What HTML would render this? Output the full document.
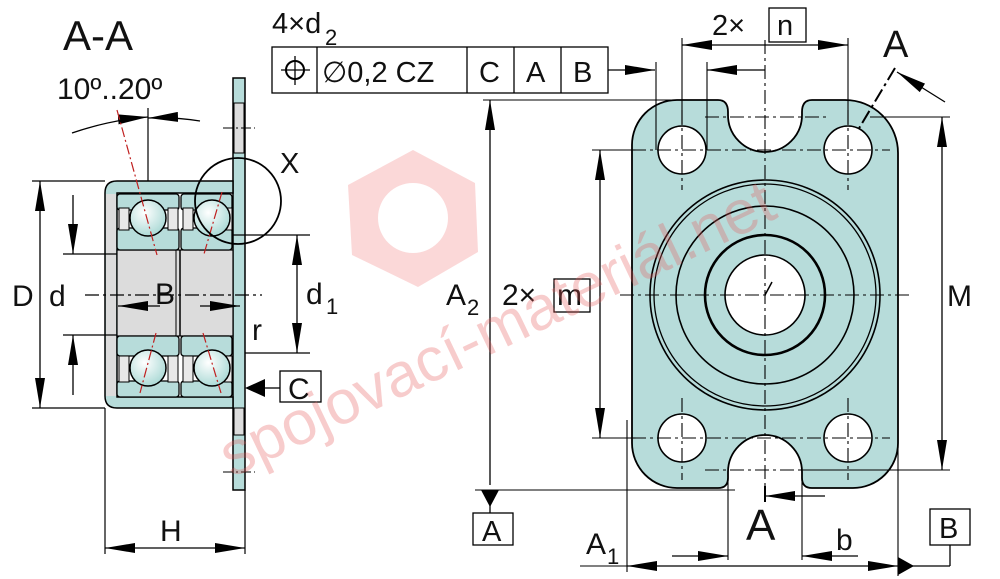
<!DOCTYPE html>
<html><head><meta charset="utf-8"><style>
html,body{margin:0;padding:0;background:#fff;width:1000px;height:579px;overflow:hidden}
svg{display:block}
text{font-family:"Liberation Sans","DejaVu Sans",sans-serif;fill:#111}
</style></head><body>
<svg width="1000" height="579" viewBox="0 0 1000 579" xmlns="http://www.w3.org/2000/svg">
<defs>
<marker id="ar" viewBox="0 0 30 10" refX="30" refY="5" markerWidth="30" markerHeight="10" markerUnits="userSpaceOnUse" orient="auto-start-reverse"><path d="M0,0 L30,5 L0,10 Z" fill="#000"/></marker>
<radialGradient id="ball" cx="0.4" cy="0.35" r="0.7"><stop offset="0" stop-color="#ffffff"/><stop offset="1" stop-color="#a8d8d4"/></radialGradient>
</defs>

<!-- ===== LEFT SECTION VIEW ===== -->
<text x="63" y="50" font-size="42">A-A</text>
<text x="57" y="99" font-size="30">10º..20º</text>
<path d="M72,133 Q110,120 148,117" fill="none" stroke="#000" stroke-width="1.3" marker-end="url(#ar)"/>
<path d="M200,121 Q175,117 148,118" fill="none" stroke="#000" stroke-width="1.3" marker-end="url(#ar)"/>
<line x1="148" y1="108" x2="148" y2="218" stroke="#000" stroke-width="1.2"/>

<!-- flange -->
<rect x="233" y="78" width="12" height="412" fill="#b7dcda" stroke="#000" stroke-width="1.5"/>
<rect x="234" y="103" width="10" height="50" fill="#dcdcdc" stroke="#000" stroke-width="1"/>
<rect x="234" y="408" width="10" height="27" fill="#dcdcdc" stroke="#000" stroke-width="1"/>
<line x1="223" y1="128" x2="255" y2="128" stroke="#000" stroke-dasharray="10,3,2,3"/>
<line x1="223" y1="472" x2="255" y2="472" stroke="#000" stroke-dasharray="10,3,2,3"/>
<!-- housing sleeve -->
<path d="M233,181 H117 Q105,181 105,193 V396 Q105,408 117,408 H233 V397 H117 V193 H233 Z" fill="#b7dcda" stroke="#000" stroke-width="1.5"/>
<rect x="106" y="194" width="10" height="202" fill="#dcdcdc"/>
<!-- bore -->
<rect x="117" y="250" width="116" height="86" fill="#dcdcdc" stroke="#000" stroke-width="1.2"/>
<line x1="180" y1="250" x2="180" y2="336" stroke="#000" stroke-width="1.5"/>
<line x1="176" y1="250" x2="176" y2="336" stroke="#000" stroke-width="1"/>
<!-- bearing rings -->
<g fill="#b7dcda" stroke="#000" stroke-width="1.3">
<rect x="117" y="194" width="62" height="16" rx="3"/><rect x="181" y="194" width="51" height="16" rx="3"/>
<rect x="117" y="228" width="62" height="22" rx="3"/><rect x="181" y="228" width="51" height="22" rx="3"/>
<rect x="117" y="336" width="62" height="20" rx="3"/><rect x="181" y="336" width="51" height="20" rx="3"/>
<rect x="117" y="381" width="62" height="16" rx="3"/><rect x="181" y="381" width="51" height="16" rx="3"/>
</g>
<g fill="#e8e8e8" stroke="#000" stroke-width="1">
<rect x="119" y="208" width="10" height="22"/><rect x="168" y="208" width="10" height="22"/>
<rect x="183" y="208" width="10" height="22"/><rect x="222" y="208" width="10" height="22"/>
<rect x="119" y="356" width="10" height="26"/><rect x="168" y="356" width="10" height="26"/>
<rect x="183" y="356" width="10" height="26"/><rect x="222" y="356" width="10" height="26"/>
</g>
<g fill="url(#ball)" stroke="#000" stroke-width="1.5">
<circle cx="148" cy="218" r="18"/><circle cx="212" cy="218" r="18"/>
<circle cx="148" cy="368" r="18"/><circle cx="212" cy="368" r="18"/>
</g>
<g stroke="#c02020" stroke-width="1.2" stroke-dasharray="10,3,2,3">
<line x1="117" y1="110" x2="157" y2="255"/>
<line x1="222" y1="192" x2="204" y2="254"/>
<line x1="156" y1="333" x2="140" y2="393"/>
<line x1="203" y1="333" x2="221" y2="393"/>
</g>
<circle cx="238" cy="201" r="43" fill="none" stroke="#000" stroke-width="1.8"/>
<text x="280" y="173" font-size="29">X</text>
<line x1="85" y1="295" x2="262" y2="295" stroke="#000" stroke-width="1.2" stroke-dasharray="14,4,3,4"/>
<text x="155" y="304" font-size="30">B</text>
<line x1="118" y1="306" x2="160" y2="306" stroke="#000" stroke-width="1.2" marker-start="url(#ar)"/>
<line x1="200" y1="306" x2="240" y2="306" stroke="#000" stroke-width="1.2" marker-end="url(#ar)"/>
<!-- D -->
<line x1="32" y1="181" x2="105" y2="181" stroke="#000" stroke-width="1.2"/>
<line x1="32" y1="408" x2="105" y2="408" stroke="#000" stroke-width="1.2"/>
<line x1="40" y1="181" x2="40" y2="408" stroke="#000" stroke-width="1.3" marker-start="url(#ar)" marker-end="url(#ar)"/>
<text x="12" y="306" font-size="30">D</text>
<!-- d -->
<line x1="63" y1="254" x2="117" y2="254" stroke="#000" stroke-width="1.2"/>
<line x1="63" y1="335" x2="117" y2="335" stroke="#000" stroke-width="1.2"/>
<line x1="73" y1="195" x2="73" y2="254" stroke="#000" stroke-width="1.3" marker-end="url(#ar)"/>
<line x1="73" y1="395" x2="73" y2="335" stroke="#000" stroke-width="1.3" marker-end="url(#ar)"/>
<text x="49" y="306" font-size="30">d</text>
<!-- d1 -->
<line x1="233" y1="235" x2="310" y2="235" stroke="#000" stroke-width="1.2"/>
<line x1="245" y1="353" x2="310" y2="353" stroke="#000" stroke-width="1.2"/>
<line x1="297" y1="235" x2="297" y2="353" stroke="#000" stroke-width="1.3" marker-start="url(#ar)" marker-end="url(#ar)"/>
<text x="306" y="304" font-size="30">d</text><text x="326" y="314" font-size="22">1</text>
<text x="252" y="340" font-size="30">r</text>
<!-- C datum -->
<polygon points="245,388 265,379 265,397" fill="#000"/>
<line x1="265" y1="388" x2="280" y2="388" stroke="#000" stroke-width="1.3"/>
<rect x="280" y="371" width="41" height="31" fill="#fff" stroke="#000" stroke-width="1.3"/>
<text x="288" y="399" font-size="30">C</text>
<!-- H -->
<line x1="105" y1="408" x2="105" y2="554" stroke="#000" stroke-width="1.2"/>
<line x1="245" y1="490" x2="245" y2="554" stroke="#000" stroke-width="1.2"/>
<line x1="105" y1="548" x2="245" y2="548" stroke="#000" stroke-width="1.3" marker-start="url(#ar)" marker-end="url(#ar)"/>
<text x="160" y="541" font-size="30">H</text>

<!-- ===== RIGHT FRONT VIEW ===== -->
<path d="M677,100 H718 Q728,100 728,112 V115 A37,37 0 0 0 802,115 V112 Q802,100 812,100 H845 A53,53 0 0 1 898,153 V443 A45,45 0 0 1 853,488 H812 Q802,488 802,478 V472 A37,37 0 0 0 728,472 V478 Q728,488 718,488 H677 A45,45 0 0 1 632,443 V145 A45,45 0 0 1 677,100 Z" fill="#b7dcda" stroke="#000" stroke-width="1.8"/>
<g fill="#fff" stroke="#000" stroke-width="1.6">
<circle cx="682" cy="150" r="24"/><circle cx="848" cy="150" r="24"/>
<circle cx="682" cy="438" r="24"/><circle cx="848" cy="438" r="24"/>
<circle cx="765" cy="295" r="40"/>
</g>
<g fill="none" stroke="#000">
<circle cx="765" cy="295" r="60" stroke-width="2.6"/>
<circle cx="765" cy="295" r="89" stroke-width="1.6"/>
<circle cx="765" cy="295" r="111" stroke-width="1.3"/>
<circle cx="765" cy="295" r="115" stroke-width="1.6"/>
</g>
<g stroke="#000" stroke-width="1.1" stroke-dasharray="14,4,3,4" fill="none">
<line x1="620" y1="295" x2="912" y2="295"/>
<line x1="765" y1="40" x2="765" y2="500"/>
<line x1="632" y1="150" x2="890" y2="150"/>
<line x1="632" y1="438" x2="890" y2="438"/>
<line x1="682" y1="110" x2="682" y2="190"/>
<line x1="848" y1="110" x2="848" y2="190"/>
<line x1="682" y1="398" x2="682" y2="480"/>
<line x1="848" y1="398" x2="848" y2="480"/>
<line x1="705" y1="117" x2="830" y2="117"/>
<line x1="705" y1="470" x2="830" y2="470"/>
</g>
<line x1="765" y1="295" x2="772" y2="282" stroke="#000" stroke-width="1.5"/>
<line x1="895" y1="68" x2="858" y2="130" stroke="#000" stroke-width="2" stroke-dasharray="14,4,3,4"/>
<text x="883" y="57" font-size="38">A</text>
<line x1="945" y1="102" x2="897" y2="72" stroke="#000" stroke-width="1.3" marker-end="url(#ar)"/>
<!-- FCF -->
<text x="272" y="33" font-size="29">4×d</text><text x="325" y="45" font-size="22">2</text>
<rect x="272" y="47" width="336" height="46" fill="#fff" stroke="#000" stroke-width="1.3"/>
<g stroke="#000" stroke-width="1.3">
<line x1="317" y1="47" x2="317" y2="93"/><line x1="467" y1="47" x2="467" y2="93"/>
<line x1="514" y1="47" x2="514" y2="93"/><line x1="561" y1="47" x2="561" y2="93"/>
<line x1="281" y1="70" x2="310" y2="70"/><line x1="295" y1="56" x2="295" y2="85"/>
</g>
<circle cx="295" cy="70" r="9" fill="none" stroke="#000" stroke-width="2"/>
<text x="322" y="82" font-size="29">∅0,2 CZ</text>
<text x="479" y="82" font-size="29">C</text>
<text x="526" y="82" font-size="29">A</text>
<text x="573" y="82" font-size="29">B</text>
<line x1="608" y1="70" x2="655" y2="70" stroke="#000" stroke-width="1.3" marker-end="url(#ar)"/>
<line x1="765" y1="70" x2="707" y2="70" stroke="#000" stroke-width="1.3" marker-end="url(#ar)"/>
<line x1="656" y1="62" x2="656" y2="150" stroke="#000" stroke-width="1.1"/>
<line x1="707" y1="62" x2="707" y2="150" stroke="#000" stroke-width="1.1"/>
<!-- 2×n -->
<text x="712" y="35" font-size="29">2×</text>
<rect x="769" y="8" width="37" height="34" fill="#fff" stroke="#000" stroke-width="1.3"/>
<text x="777" y="35" font-size="29">n</text>
<line x1="682" y1="38" x2="682" y2="125" stroke="#000" stroke-width="1.1"/>
<line x1="848" y1="38" x2="848" y2="125" stroke="#000" stroke-width="1.1"/>
<line x1="682" y1="45" x2="848" y2="45" stroke="#000" stroke-width="1.3" marker-start="url(#ar)" marker-end="url(#ar)"/>
<!-- A2 -->
<line x1="483" y1="100" x2="677" y2="100" stroke="#000" stroke-width="1.1"/>
<line x1="475" y1="490" x2="735" y2="490" stroke="#000" stroke-width="1.1"/>
<line x1="490" y1="100" x2="490" y2="485" stroke="#000" stroke-width="1.3" marker-start="url(#ar)"/>
<polygon points="481,490 499,490 490,507" fill="#000"/>
<line x1="490" y1="505" x2="490" y2="513" stroke="#000" stroke-width="1.3"/>
<rect x="473" y="513" width="40" height="32" fill="#fff" stroke="#000" stroke-width="1.3"/>
<text x="482" y="541" font-size="29">A</text>
<text x="446" y="305" font-size="30">A</text><text x="467" y="315" font-size="22">2</text>
<!-- 2×m -->
<text x="502" y="305" font-size="30">2×</text>
<rect x="554" y="279" width="36" height="33" fill="#fff" stroke="#000" stroke-width="1.3"/>
<text x="557" y="305" font-size="30">m</text>
<line x1="592" y1="150" x2="640" y2="150" stroke="#000" stroke-width="1.1"/>
<line x1="592" y1="438" x2="640" y2="438" stroke="#000" stroke-width="1.1"/>
<line x1="600" y1="150" x2="600" y2="438" stroke="#000" stroke-width="1.3" marker-start="url(#ar)" marker-end="url(#ar)"/>
<!-- M -->
<line x1="870" y1="117" x2="950" y2="117" stroke="#000" stroke-width="1.1"/>
<line x1="800" y1="470" x2="950" y2="470" stroke="#000" stroke-width="1.1"/>
<line x1="942" y1="117" x2="942" y2="470" stroke="#000" stroke-width="1.3" marker-start="url(#ar)" marker-end="url(#ar)"/>
<text x="947" y="306" font-size="30">M</text>
<!-- bottom dims -->
<line x1="627" y1="420" x2="627" y2="572" stroke="#000" stroke-width="1.1"/>
<line x1="898" y1="440" x2="898" y2="576" stroke="#000" stroke-width="1.1"/>
<line x1="728" y1="478" x2="728" y2="560" stroke="#000" stroke-width="1.1"/>
<line x1="802" y1="478" x2="802" y2="560" stroke="#000" stroke-width="1.1"/>
<line x1="580" y1="566" x2="627" y2="566" stroke="#000" stroke-width="1.1"/>
<line x1="627" y1="566" x2="898" y2="566" stroke="#000" stroke-width="1.3" marker-start="url(#ar)" marker-end="url(#ar)"/>
<polygon points="898,557 898,575 914,566" fill="#000"/>
<line x1="912" y1="566" x2="950" y2="566" stroke="#000" stroke-width="1.3"/>
<line x1="950" y1="566" x2="950" y2="545" stroke="#000" stroke-width="1.3"/>
<rect x="930" y="509" width="40" height="36" fill="#fff" stroke="#000" stroke-width="1.3"/>
<text x="939" y="538" font-size="29">B</text>
<text x="586" y="554" font-size="30">A</text><text x="607" y="564" font-size="22">1</text>
<line x1="672" y1="556" x2="728" y2="556" stroke="#000" stroke-width="1.3" marker-end="url(#ar)"/>
<line x1="858" y1="556" x2="802" y2="556" stroke="#000" stroke-width="1.3" marker-end="url(#ar)"/>
<text x="836" y="550" font-size="30">b</text>
<text x="746" y="540" font-size="44">A</text>
<line x1="825" y1="496" x2="765" y2="496" stroke="#000" stroke-width="1.3" marker-end="url(#ar)"/>
<line x1="765" y1="486" x2="765" y2="502" stroke="#000" stroke-width="2"/>

<!-- watermark on top -->
<g opacity="0.45">
<path fill-rule="evenodd" fill="#f6a8a8" d="M413,150 L475,183 L478,252 L418,287 L352,255 L348,185 Z M448,218 A35,35 0 1 0 378,218 A35,35 0 1 0 448,218 Z"/>
</g>
<text x="0" y="0" transform="translate(232,478) rotate(-25.5)" font-size="62" style="fill:#e85a5a" opacity="0.3">spojovací-materiál.net</text>
</svg>
</body></html>
